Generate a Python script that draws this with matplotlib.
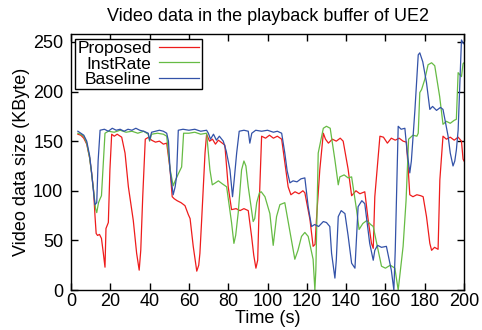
import matplotlib
matplotlib.use("Agg")
import matplotlib.pyplot as plt

plt.rcParams['font.family'] = ['Liberation Sans', 'DejaVu Sans']
plt.rcParams['font.size'] = 13

# Proposed (red)
prop_t = [3.5, 5, 6.5, 8, 9.5, 10.5, 11.5, 12.2, 12.8, 13.5, 14.5, 15.5, 16.4, 17.3, 17.8,
          19, 19.8, 20.7, 22, 23.5, 25, 25.8, 27.5, 29.2, 31.7, 33.4, 34.7, 35.5, 36.5, 37.8,
          39.5, 41, 43, 45, 47, 48.7, 50.4, 51.5, 52.5, 54, 56, 58, 59.7, 60.6, 62.2, 63.2,
          64, 65, 65.6, 66.5, 68.2, 69, 70.5, 72, 73.5, 75, 77, 78.3, 80, 81.7, 84, 86, 88,
          90.2, 91.9, 93, 94.1, 95, 95.8, 97, 99, 101, 103, 105, 107.2, 110.5, 111.9, 114,
          116, 118, 119, 121.6, 123.2, 124.2, 124.9, 126.6, 128.4, 129.5, 131, 133, 135, 137,
          138.5, 141, 142.8, 145, 147, 149.5, 151.2, 152.9, 153.8, 154.6, 157.2, 159, 161,
          163, 165, 167, 169, 170.7, 171.6, 172.4, 174, 176, 178, 179.2, 180.9, 182.6, 183.5,
          185, 186.8, 187.7, 189.3, 191, 193, 195, 197, 198.7, 199.5, 200]
prop_v = [157, 156, 153, 147, 133, 118, 100, 75, 57, 55, 56, 52, 38, 23, 62,
          68, 121, 157, 155, 157, 155, 154, 138, 104, 70, 37, 20, 40, 94, 152,
          154, 151, 149, 150, 147, 148, 122, 94, 92, 90, 88, 85, 76, 72, 44, 30,
          19, 25, 37, 71, 138, 157, 150, 152, 147, 151, 148, 146, 104, 81, 82, 80, 82,
          80, 54, 35, 22, 30, 88, 155, 153, 156, 153, 155, 152, 104, 96, 99,
          97, 100, 98, 71, 44, 46, 71, 121, 158, 152, 148, 152, 150, 153,
          150, 122, 95, 100, 97, 99, 71, 47, 42, 94, 155, 154, 148,
          153, 151, 153, 150, 149, 122, 96, 94, 96, 95, 94, 74, 47, 40,
          43, 41, 111, 155, 152, 154, 151, 154, 150, 132, 130]

# InstRate (green)
inst_t = [3.5, 5, 6.5, 8, 9.5, 10.5, 11.5, 12.5, 13.1, 14, 14.8, 15.5, 16.5, 17.3, 19, 22,
          25, 28, 31, 34, 37, 39.3, 40, 41, 44, 47, 48.7, 50.4, 52, 53, 54.6, 56.3, 57.3,
          60, 63, 66, 69, 70.7, 71.9, 73.5, 75, 77, 79.2, 81.7, 82.9, 83.8, 85.1, 86.8, 88,
          89, 90.2, 92.7, 93.5, 94.5, 95.9, 96.8, 98.7, 101.2, 102.9, 104.6, 106.3, 108.8,
          109.7, 113.9, 115.5, 117.3, 119, 120.7, 123.2, 124.1, 124.6, 125.8, 128.4, 130,
          131.9, 134.3, 136, 136.8, 139, 141, 142.8, 145.3, 146.6, 148.5, 150.5, 152.5, 153.8,
          156.3, 158, 160, 162.5, 164.8, 166.5, 169, 170.5, 171.8, 174, 176, 176.7, 177.5,
          178.4, 180, 181.7, 183.5, 185.1, 187.6, 189.3, 191, 193, 195, 196.1, 197, 198.7,
          199.5, 200]
inst_v = [158, 157, 155, 148, 133, 117, 100, 82, 78, 88, 92, 95, 130, 158, 160, 159,
          161, 159, 160, 158, 160, 157, 150, 157, 158, 157, 155, 122, 105, 110, 117, 124, 158,
          158, 159, 157, 158, 121, 106, 108, 110, 107, 104, 68, 47, 55, 78, 121, 130,
          125, 104, 69, 72, 88, 98, 99, 94, 77, 45, 74, 86, 88,
          78, 31, 40, 54, 58, 54, 31, 0, 20, 138, 163, 165,
          163, 131, 106, 114, 116, 113, 114, 81, 61, 67, 70, 66, 64,
          40, 24, 22, 25, 22, 0, 44, 90, 152, 156, 155, 158, 199,
          202, 212, 227, 229, 226, 195, 167, 170, 168, 171, 172, 219, 215,
          228, 229]

# Baseline (blue)
base_t = [3.5, 5, 6.5, 8, 9.5, 10.5, 11.4, 12.2, 13.1, 13.8, 14.8, 17, 19, 21, 23, 25, 27,
          29, 31, 33, 35, 37, 39.3, 40, 41, 43, 45, 47, 48.7, 49.6, 50.4, 51.2, 52, 53, 53.7,
          54.6, 57, 60, 63, 66, 69, 69.9, 71, 72.5, 74, 75.5, 77.5, 79, 80.9, 82.2, 83, 84.3,
          85.6, 88, 90.2, 91, 92, 94, 97, 100, 103, 105, 107.2, 108.8, 110, 111.4, 113, 115,
          117, 119, 120.7, 122.4, 124, 126, 128.4, 130, 131.7, 132.6, 134.3, 135, 136, 137.5,
          139.4, 141, 142.8, 144.5, 146.1, 148, 149.5, 152, 153.8, 154.6, 156, 158, 160.5,
          163, 164.3, 165, 166.5, 168, 169.9, 171, 172.4, 173.2, 175, 176.7, 177.5, 179,
          180.9, 182.6, 184, 186, 188, 189.3, 191.9, 193, 194.4, 195.3, 196.1, 197, 198.7,
          199.5, 200]
base_v = [160, 158, 156, 150, 135, 118, 100, 86, 88, 130, 161, 162, 160, 163, 161, 162, 160,
          162, 161, 163, 161, 160, 158, 151, 159, 160, 161, 160, 158, 150, 121, 108, 96, 104, 114,
          161, 162, 161, 162, 160, 161, 158, 152, 157, 151, 155, 150, 140, 121, 94, 110, 138,
          160, 161, 160, 148, 158, 161, 160, 161, 159, 160, 158, 138, 120, 108, 110, 109,
          112, 113, 84, 64, 66, 64, 69, 68, 64, 37, 12, 30, 74, 80,
          77, 55, 27, 22, 84, 90, 87, 47, 30, 40, 45, 43, 44,
          20, 0, 40, 165, 162, 163, 140, 118, 130, 181, 237, 239, 230,
          209, 182, 185, 181, 184, 182, 155, 138, 125, 130, 141, 161, 252,
          249, 248]

fig = plt.figure(figsize=(4.82, 3.30), dpi=100)
ax = fig.add_axes([0.1473, 0.1212, 0.8154, 0.7758])

ax.plot(prop_t, prop_v, color='#ee1c1c', lw=0.9, label='Proposed')
ax.plot(inst_t, inst_v, color='#66bb44', lw=0.9, label='InstRate')
ax.plot(base_t, base_v, color='#3352a8', lw=0.9, label='Baseline')

ax.set_xlim(0, 200)
ax.set_ylim(0, 258)
ax.set_xticks(range(0, 201, 20))
ax.set_yticks(range(0, 251, 50))
ax.tick_params(direction='in', length=5, width=1, top=True, right=True, labelsize=13)
ax.tick_params(axis='x', pad=2.5)
ax.tick_params(axis='y', pad=5.5)
for s in ax.spines.values():
    s.set_linewidth(1)

ax.set_title('Video data in the playback buffer of UE2', fontsize=13, pad=9)
ax.set_xlabel('Time (s)', fontsize=13, labelpad=0)
ax.set_ylabel('Video data size (KByte)', fontsize=13, labelpad=2)

leg = ax.legend(loc='upper left', bbox_to_anchor=(0.009, 0.982), borderaxespad=0,
                markerfirst=False, frameon=True, fancybox=False, edgecolor='black',
                framealpha=1, handlelength=2.3, handletextpad=0.45,
                labelspacing=0.0, borderpad=0.15, fontsize=12.5)
leg.get_frame().set_linewidth(1)

fig.savefig('out.png', dpi=100)
